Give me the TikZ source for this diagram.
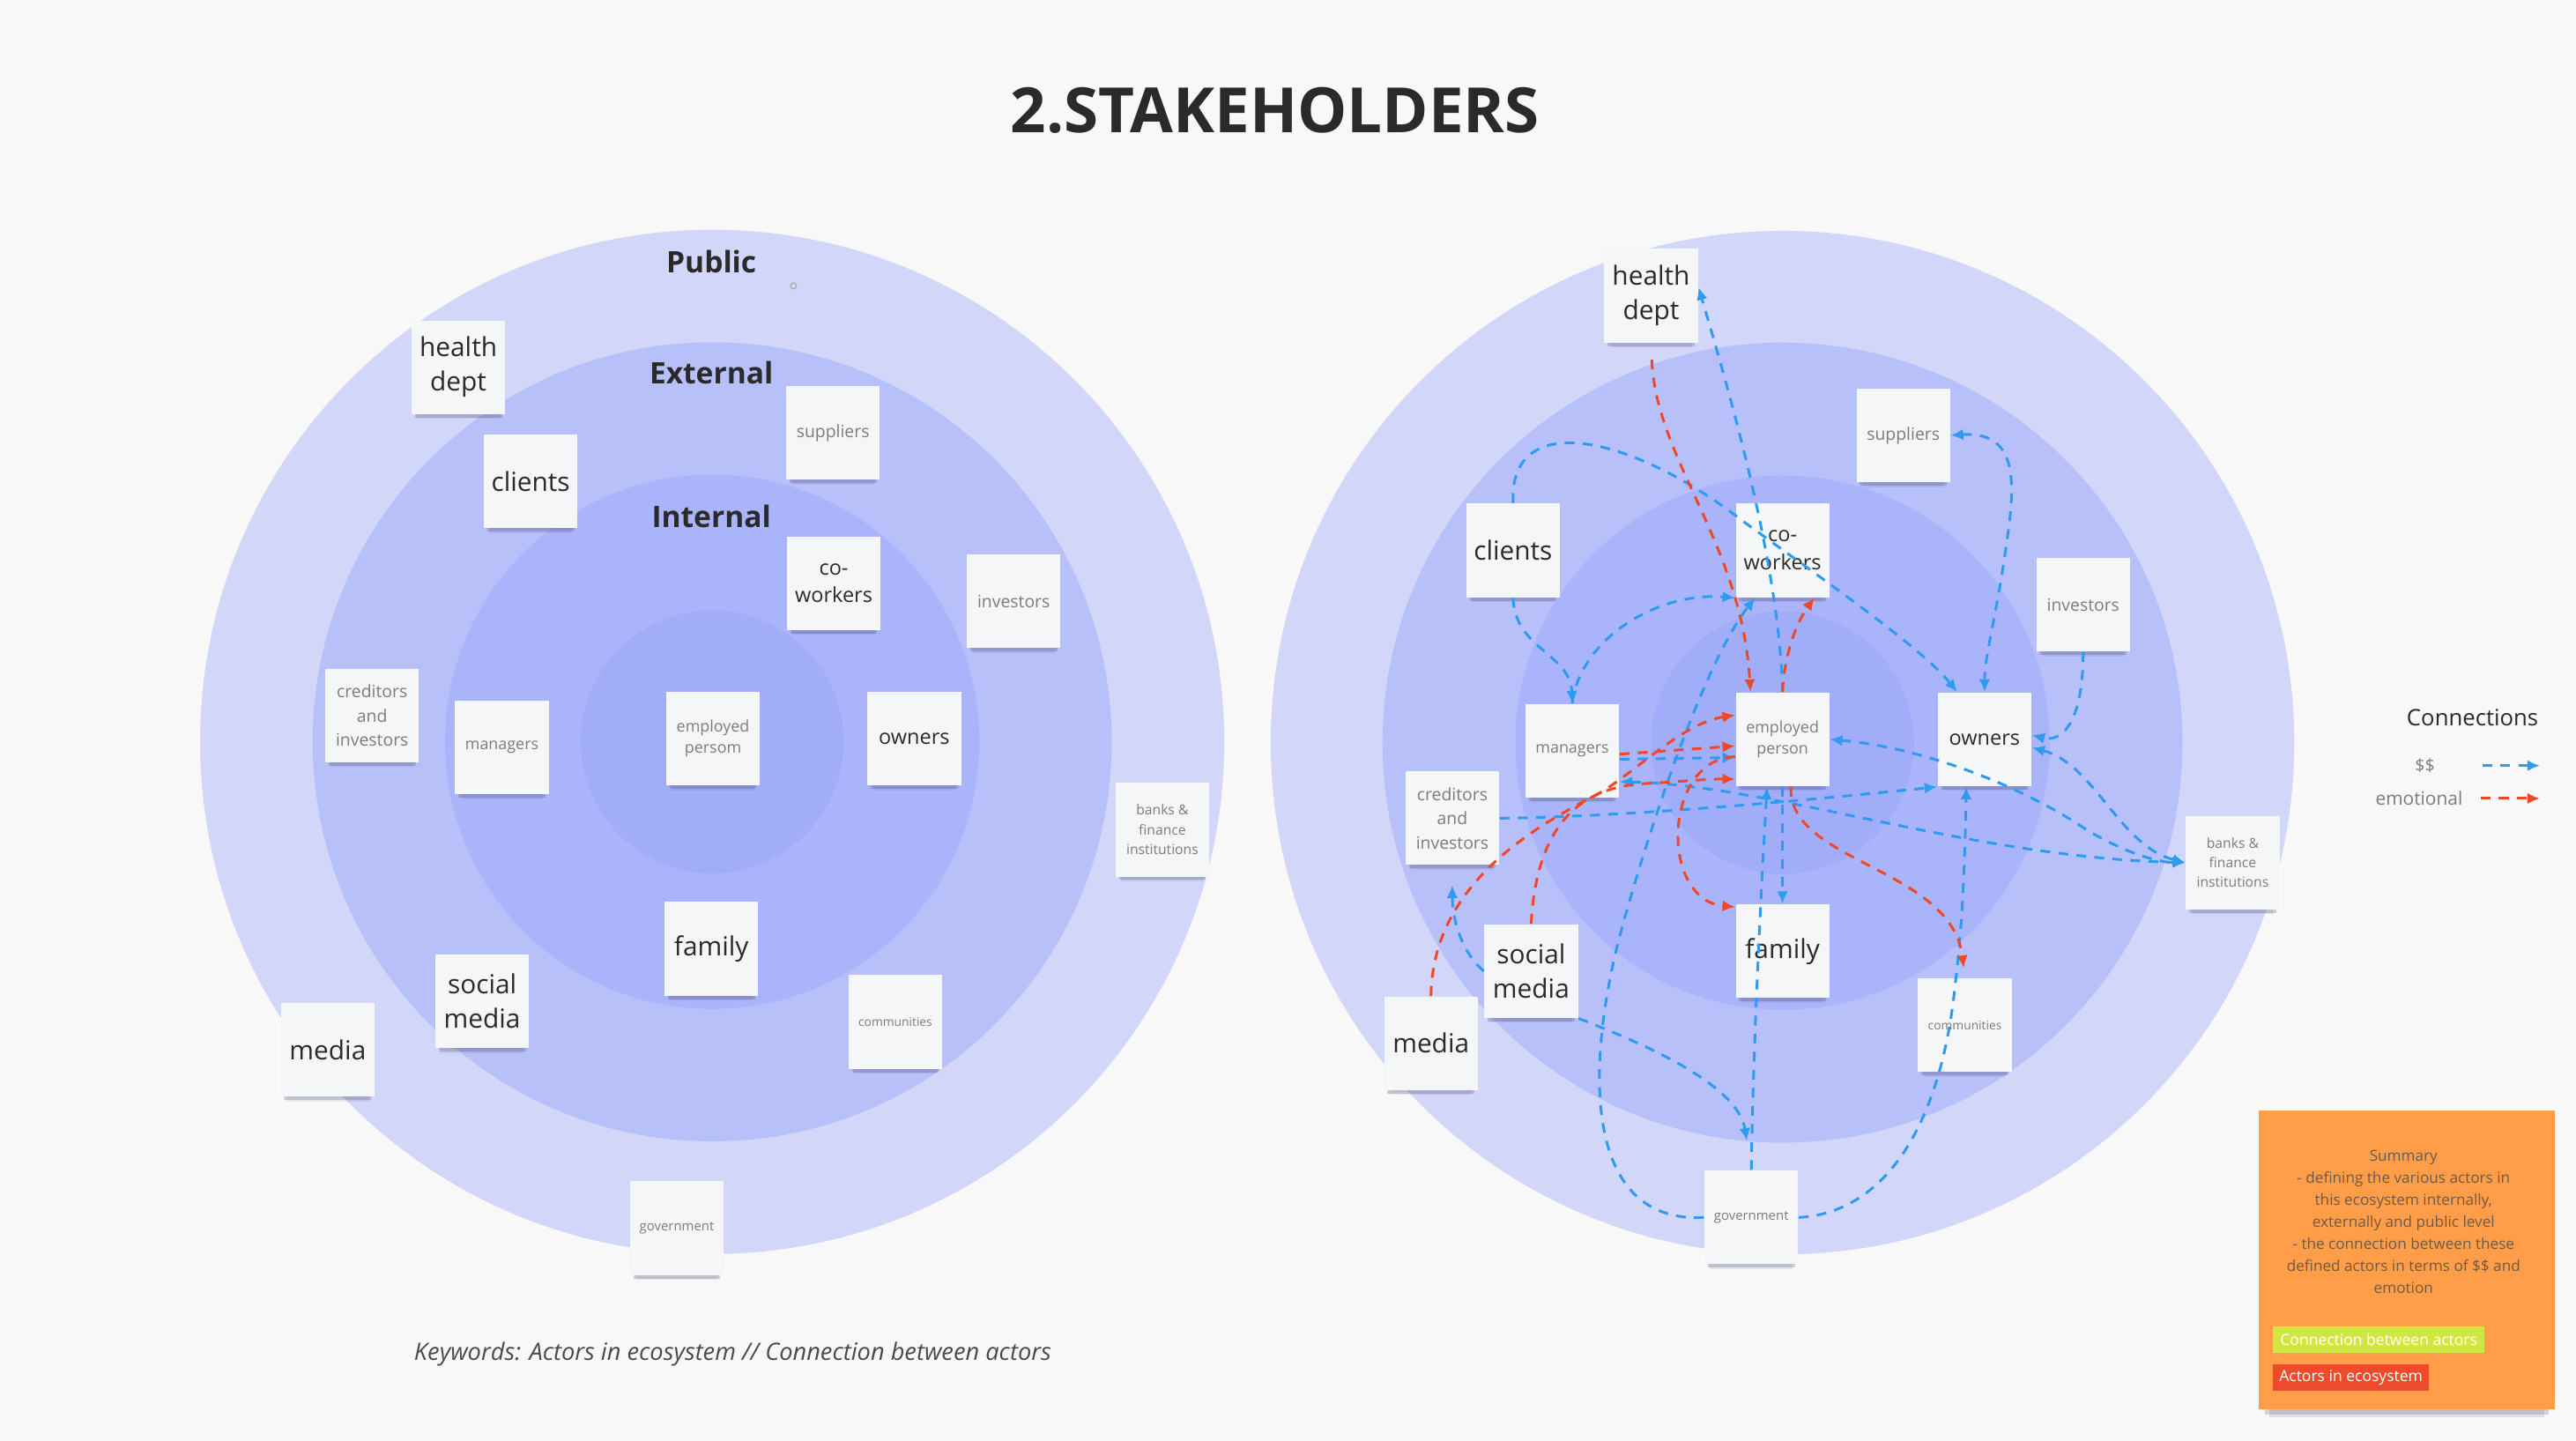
\documentclass[tikz,border=0pt]{standalone}
\usepackage{fontspec}
\setmainfont{Open Sans}
\usetikzlibrary{arrows.meta,shadows}

\begin{document}
\begin{tikzpicture}[x=0.5pt,y=-0.5pt,
  note/.style={fill=notewhite,minimum width=28.5pt,minimum height=28.5pt,inner sep=1pt,align=center,
    general shadow={fill=shadowink,opacity=.10,shadow yshift=-3.6pt,shadow scale=.88},
    general shadow={fill=shadowink,opacity=.22,shadow yshift=-2.2pt,shadow scale=.93}},
  note big/.style={note,text=inkdark,font=\fontsize{8}{10.5}\selectfont},
  note mid/.style={note,text=inkdark,font=\fontsize{6.3}{8.5}\selectfont},
  note small/.style={note,text=inkgrey,font=\fontsize{5.2}{7.4}\selectfont},
  note tiny/.style={note,text=inkgrey,font=\fontsize{4}{6}\selectfont},
  ring label/.style={anchor=base,text=inkdark,font=\fontsize{9}{10}\selectfont\bfseries},
  money/.style={draw=moneyblue,line width=0.8pt,dash pattern=on 3pt off 2.5pt,
    >={Latex[length=3.8pt,width=3.4pt]}},
  emo/.style={draw=emored,line width=0.8pt,dash pattern=on 3pt off 2.5pt,
    >={Latex[length=3.8pt,width=3.4pt]}}]
  \definecolor{bgcol}{HTML}{F8F8F8}
  \definecolor{ringA}{HTML}{D2D7FA}
  \definecolor{ringB}{HTML}{B8C0FA}
  \definecolor{ringC}{HTML}{AAB4FA}
  \definecolor{ringD}{HTML}{A1ADF9}
  \definecolor{notewhite}{HTML}{F5F6F8}
  \definecolor{shadowink}{HTML}{3A3F66}
  \definecolor{inkdark}{HTML}{2A2A2A}
  \definecolor{inkgrey}{HTML}{7C7C7C}
  \definecolor{moneyblue}{HTML}{2D9BF0}
  \definecolor{emored}{HTML}{F24726}
  \definecolor{summaryorange}{HTML}{FF9D48}
  \definecolor{summaryink}{HTML}{6E5A48}
  \definecolor{taggreen}{HTML}{CEE741}
  \definecolor{tagred}{HTML}{EF4B2B}

  \useasboundingbox (0,0) rectangle (1568,877);
  \fill[bgcol] (0,0) rectangle (1568,877);

  \node[anchor=base,text=inkdark,font=\fontsize{19}{22}\selectfont\bfseries] (title) at (776,80.5) {2.STAKEHOLDERS};

  %% left board: the four rings and where every actor sits
  \fill[ringA] (433.5,451.5) circle (311.7);
  \fill[ringB] (433.5,451.5) circle (243.2);
  \fill[ringC] (433.5,451.5) circle (162.6);
  \fill[ringD] (433.5,451.5) circle (80);
  \node[ring label] (l-public) at (433,166) {Public};
  \node[ring label] (l-external) at (433,233.5) {External};
  \node[ring label] (l-internal) at (433,321) {Internal};
  \draw[inkgrey!60,line width=0.4pt] (483,174) circle (1.8);

  \node[note big] (l-health) at (279,223.5) {health\\dept};
  \node[note big] (l-clients) at (323,293) {clients};
  \node[note small] (l-suppliers) at (507,263.5) {suppliers};
  \node[note mid] (l-cowork) at (507.5,355) {co-\\workers};
  \node[note small] (l-invest) at (617,366) {investors};
  \node[note small] (l-creditors) at (226.5,435.5) {creditors\\and\\investors};
  \node[note small,font=\fontsize{4.8}{6.6}\selectfont] (l-managers) at (305.5,455) {managers};
  \node[note small,font=\fontsize{4.8}{6.6}\selectfont] (l-employed) at (434,449.5) {employed\\persom};
  \node[note mid] (l-owners) at (556.5,449.5) {owners};
  \node[note tiny,font=\fontsize{4.2}{6}\selectfont] (l-banks) at (707.5,505) {banks \&\\finance\\institutions};
  \node[note big] (l-family) at (433,577.5) {family};
  \node[note big] (l-social) at (293.5,609.5) {social\\media};
  \node[note tiny,font=\fontsize{3.7}{5}\selectfont] (l-communities) at (545,622) {communities};
  \node[note big] (l-media) at (199.5,639) {media};
  \node[note tiny] (l-gov) at (412,747.5) {government};

  \node[anchor=base,text=inkdark!85,font=\fontsize{7.3}{8}\selectfont\itshape] (keywords) at (446,828)
    {Keywords: Actors in ecosystem // Connection between actors};

  %% right board: same actors, joined by $$ (blue) and emotional (red) ties
  \fill[ringA] (1085,452) circle (311.5);
  \fill[ringB] (1085,452) circle (243.5);
  \fill[ringC] (1085,452) circle (162.6);
  \fill[ringD] (1085,452) circle (80);

  \node[note big] (r-health) at (1005,180) {health\\dept};
  \node[note small] (r-suppliers) at (1158.5,265) {suppliers};
  \node[note big] (r-clients) at (921,335) {clients};
  \node[note mid] (r-cowork) at (1085,335) {co-\\workers};
  \node[note small] (r-invest) at (1268,368) {investors};
  \node[note small,font=\fontsize{4.8}{6.6}\selectfont] (r-managers) at (957,457) {managers};
  \node[note small,font=\fontsize{4.8}{6.6}\selectfont] (r-employed) at (1085,450) {employed\\person};
  \node[note mid] (r-owners) at (1208,450) {owners};
  \node[note small] (r-creditors) at (884,498) {creditors\\and\\investors};
  \node[note tiny,font=\fontsize{4.2}{6}\selectfont] (r-banks) at (1359,525) {banks \&\\finance\\institutions};
  \node[note big] (r-social) at (932,591) {social\\media};
  \node[note big] (r-family) at (1085,579) {family};
  \node[note tiny,font=\fontsize{3.7}{5}\selectfont] (r-communities) at (1196,624) {communities};
  \node[note big] (r-media) at (871,635) {media};
  \node[note tiny] (r-gov) at (1066,741) {government};

  %% $$ ties
  \draw[money,->] (r-employed.north) .. controls (1083,340) and (1050,230) .. (r-health.10);
  \draw[money,->] (r-clients.north) .. controls (918,250) and (990,262) .. (1062,318)
    .. controls (1120,360) and (1170,395) .. (r-owners.120);
  \draw[money,->] (r-clients.south) .. controls (922,395) and (956,398) .. (r-managers.north);
  \draw[money,->] (r-managers.north) .. controls (962,388) and (1010,360) .. (r-cowork.-135);
  \draw[money,->] (r-gov.west) .. controls (960,745) and (965,640) .. (990,555)
    .. controls (1010,485) and (1040,400) .. (r-cowork.-120);
  \draw[money,->] (r-gov.east) .. controls (1150,738) and (1182,680) .. (1190,600)
    .. controls (1195,560) and (1196,520) .. (r-owners.-111);
  \draw[money,->] (r-gov.north) .. controls (1067,640) and (1072,540) .. (r-employed.-108);
  \draw[money,->,shorten >=9pt] (r-social.south east) .. controls (1000,635) and (1058,660) .. (r-gov.north);
  \draw[money,->] (r-employed.south) -- (r-family.north);
  \draw[money,<->] (r-employed.east) .. controls (1170,455) and (1230,478) .. (1270,505)
    .. controls (1295,520) and (1315,525) .. (r-banks.west);
  \draw[money,<->] (r-owners.-10) .. controls (1275,465) and (1290,515) .. (r-banks.west);
  \draw[money,->] (r-invest.south) .. controls (1268,440) and (1255,452) .. (r-owners.5);
  \draw[money,->] (r-creditors.east) .. controls (1000,497) and (1120,485) .. (r-owners.-135);
  \draw[money,<->] (r-managers.-33) .. controls (1080,478) and (1200,522) .. (r-banks.west);
  \draw[money,->] (r-managers.-10) -- (r-employed.-159);
  \draw[money,->,shorten >=6pt] (r-social.west) .. controls (890,580) and (884,560) .. (r-creditors.south);
  \draw[money,<->] (r-suppliers.east) .. controls (1232,262) and (1226,300) .. (1220,340)
    .. controls (1214,380) and (1208,400) .. (r-owners.north);

  %% emotional ties
  \draw[emo,->,shorten <=5pt] (r-health.south) .. controls (1008,280) and (1060,330) .. (r-employed.124);
  \draw[emo,->] (r-employed.north) .. controls (1086,398) and (1094,378) .. (r-cowork.-56);
  \draw[emo,->] (r-managers.-4) -- (r-employed.-172);
  \draw[emo,->] (r-media.north) .. controls (872,540) and (930,505) .. (975,482)
    .. controls (1000,466) and (1025,440) .. (r-employed.153);
  \draw[emo,->] (r-social.north) .. controls (935,510) and (955,480) .. (1000,477)
    .. controls (1020,476) and (1040,474) .. (r-employed.-140);
  \draw[emo,->] (r-employed.-160) .. controls (1012,462) and (1010,548) .. (r-family.137);
  \draw[emo,->,shorten >=3pt] (r-employed.-80) .. controls (1088,525) and (1188,528) .. (r-communities.north);

  %% legend
  \node[text=inkdark,font=\fontsize{6.9}{8}\selectfont] (legend) at (1505,437) {Connections};
  \node[anchor=east,text=inkgrey,font=\fontsize{5.2}{6}\selectfont] (lg-money) at (1489,466) {\$\$};
  \node[anchor=east,text=inkgrey,font=\fontsize{5.6}{6}\selectfont] (lg-emo) at (1506,486) {emotional};
  \coordinate (lg-money-a) at (1511,466);
  \coordinate (lg-money-b) at (1546,466);
  \coordinate (lg-emo-a) at (1510,486);
  \coordinate (lg-emo-b) at (1546,486);
  \draw[money,->] (lg-money-a) -- (lg-money-b);
  \draw[emo,->] (lg-emo-a) -- (lg-emo-b);

  %% summary sticky
  \node[fill=summaryorange,minimum width=90pt,minimum height=91pt,
    general shadow={fill=shadowink,opacity=.12,shadow yshift=-6pt,shadow scale=.93},
    general shadow={fill=shadowink,opacity=.2,shadow yshift=-3.5pt,shadow scale=.96}] (summary) at (1465,767) {};
  \node[anchor=north,align=center,text=summaryink,font=\fontsize{4.6}{6.7}\selectfont] (summary-text) at (1463,693)
    {Summary\\- defining the various actors in\\this ecosystem internally,\\externally and public level\\- the connection between these\\defined actors in terms of \$\$ and\\emotion};
  \node[anchor=north west,fill=taggreen,text=white,minimum width=64.5pt,minimum height=8pt,inner sep=1.5pt,
    font=\fontsize{4.7}{5}\selectfont] (tag-connection) at (1383,807) {Connection between actors\hfill};
  \node[anchor=north west,fill=tagred,text=white,minimum height=8pt,inner xsep=2pt,inner ysep=1.5pt,
    font=\fontsize{4.7}{5}\selectfont] (tag-actors) at (1383,830) {Actors in ecosystem};
\end{tikzpicture}
\end{document}
